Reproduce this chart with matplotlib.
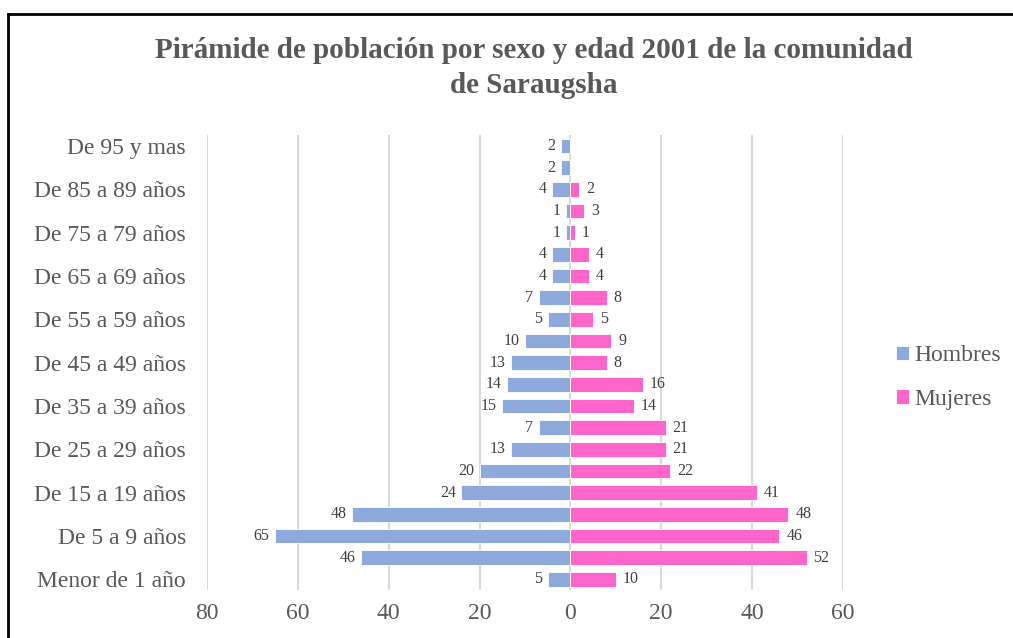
import numpy as np
import matplotlib
matplotlib.use('Agg')
import matplotlib.pyplot as plt
from matplotlib.lines import Line2D
from matplotlib.ticker import FuncFormatter

plt.rcParams['font.family'] = ['Liberation Serif', 'DejaVu Serif']

grupos = ['Menor de 1 año', 'De 1 a 4 años', 'De 5 a 9 años', 'De 10 a 14 años',
          'De 15 a 19 años', 'De 20 a 24 años', 'De 25 a 29 años', 'De 30 a 34 años',
          'De 35 a 39 años', 'De 40 a 44 años', 'De 45 a 49 años', 'De 50 a 54 años',
          'De 55 a 59 años', 'De 60 a 64 años', 'De 65 a 69 años', 'De 70 a 74 años',
          'De 75 a 79 años', 'De 80 a 84 años', 'De 85 a 89 años', 'De 90 a 94 años',
          'De 95 y mas']
hombres = [5, 46, 65, 48, 24, 20, 13, 7, 15, 14, 13, 10, 5, 7, 4, 4, 1, 1, 4, 2, 2]
mujeres = [10, 52, 46, 48, 41, 22, 21, 21, 14, 16, 8, 9, 5, 8, 4, 4, 1, 3, 2, None, None]
ticks_x = [-80, -60, -40, -20, 0, 20, 40, 60]

titulo = 'Pirámide de población por sexo y edad 2001 de la comunidad\nde Saraugsha'
color_h = '#8EA9DB'
color_m = '#FF66CC'
gris = '#595959'

fig = plt.figure(figsize=(10.13, 6.38), dpi=100)
ax = fig.add_axes([0.2043, 0.075, 0.6278, 0.713])

y = np.arange(len(grupos))
h = np.array(hombres, dtype=float)
m = np.array([np.nan if v is None else v for v in mujeres], dtype=float)

ax.barh(y, -h, height=0.68, color=color_h, edgecolor='white', linewidth=0.6,
        label='Hombres', zorder=3)
ax.barh(y, np.nan_to_num(m), height=0.68, color=color_m, edgecolor='white',
        linewidth=0.6, label='Mujeres', zorder=3)

for yi, v in zip(y, h):
    ax.annotate(str(int(v)), (-v, yi), xytext=(-4, 0), textcoords='offset points',
                ha='right', va='center', fontsize=11.5, color='#404040')
for yi, v in zip(y, m):
    if not np.isnan(v):
        ax.annotate(str(int(v)), (v, yi), xytext=(5, 0), textcoords='offset points',
                    ha='left', va='center', fontsize=11.5, color='#404040')

ax.set_xlim(-80, 60)
ax.set_ylim(-0.5, len(grupos) - 0.5)
ax.set_xticks(ticks_x)
ax.xaxis.set_major_formatter(FuncFormatter(lambda v, p: str(int(abs(v)))))
ax.set_yticks(y[::2])
ax.set_yticklabels(grupos[::2])
ax.tick_params(axis='both', length=0, labelsize=17, labelcolor=gris)
ax.tick_params(axis='x', pad=9)
ax.tick_params(axis='y', pad=15)
ax.grid(axis='x', color='#D9D9D9', linewidth=1.5, zorder=0)
for s in ax.spines.values():
    s.set_visible(False)

fig.text(0.527, 0.893, titulo, ha='center', va='center', fontsize=21,
         fontweight='bold', color=gris, linespacing=1.4)

ax.legend(loc='center left', bbox_to_anchor=(1.05, 0.467), frameon=False,
          fontsize=17, labelcolor=gris, handlelength=0.55, handleheight=0.55,
          handletextpad=0.25, labelspacing=0.95)

fig.add_artist(Line2D([0.008, 1.0], [0.978, 0.978], color='black', linewidth=2))
fig.add_artist(Line2D([0.008, 0.008], [0.0, 0.978], color='black', linewidth=2))

fig.savefig('out.png', dpi=100)
